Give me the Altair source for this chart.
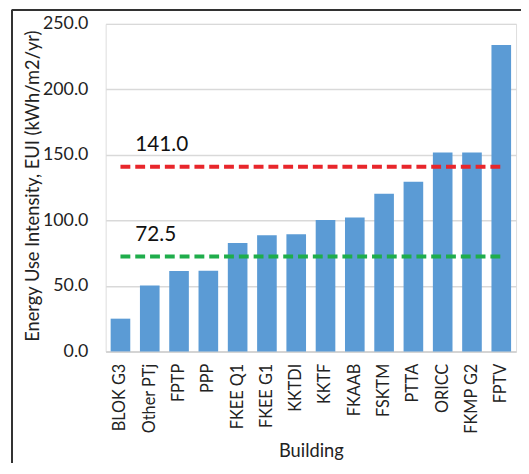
import altair as alt
import pandas as pd

buildings = ["BLOK G3", "Other PTj", "FPTP", "PPP", "FKEE Q1", "FKEE G1", "KKTDI",
             "KKTF", "FKAAB", "FSKTM", "PTTA", "ORICC", "FKMP G2", "FPTV"]
eui = [25.0, 50.3, 61.3, 61.6, 82.7, 88.6, 89.4, 100.3, 102.3, 120.4, 129.6, 151.8, 151.8, 233.8]

ref_values = [141.0, 72.5]
ref_labels = ["141.0", "72.5"]
ref_colors = ["#e8262b", "#1fad4b"]

FONT = "Lato"

df = pd.DataFrame({"Building": buildings, "EUI": eui})
ref = pd.DataFrame({
    "start": [buildings[0]] * 2,
    "end": [buildings[-1]] * 2,
    "value": ref_values,
    "label": ref_labels,
    "color": ref_colors,
})

xscale = alt.Scale(domain=buildings, paddingInner=0.33, paddingOuter=0.17)
yscale = alt.Scale(domain=[0, 250])

bars = alt.Chart(df).mark_bar(color="#5b9bd5").encode(
    x=alt.X("Building:N", sort=buildings, scale=xscale,
            axis=alt.Axis(title="Building", labelAngle=270, labelFontSize=16.5,
                          labelColor="#222", labelFont=FONT, ticks=False,
                          labelPadding=12, domainColor="#d0d0d0", domainWidth=1.5,
                          titleFont=FONT, titleFontSize=18.5, titleFontWeight="normal",
                          titleColor="#222", titleY=101, titleBaseline="middle",
                          labelBaseline="middle")),
    y=alt.Y("EUI:Q", scale=yscale,
            axis=alt.Axis(title="Energy Use Intensity, EUI (kWh/m2/yr)",
                          values=[0, 50, 100, 150, 200, 250], format=".1f",
                          labelFontSize=18, labelFont=FONT, labelColor="#222",
                          ticks=False, domain=False, labelPadding=18,
                          gridColor="#d9d9d9", gridWidth=1.5,
                          titleFont=FONT, titleFontSize=18.5, titleFontWeight="normal",
                          titleColor="#222", titleX=-74, titleY=164,
                          titleBaseline="middle")),
)

rules = alt.Chart(ref).mark_rule(strokeWidth=4, strokeDash=[10, 5]).encode(
    x=alt.X("start:N", sort=buildings, scale=xscale),
    x2="end:N",
    y=alt.Y("value:Q", scale=yscale),
    color=alt.Color("color:N", scale=None),
)

texts = alt.Chart(ref).mark_text(align="left", baseline="alphabetic", dx=15, dy=-16,
                                 fontSize=21, font=FONT, color="#111").encode(
    x=alt.X("start:N", sort=buildings, scale=xscale),
    y=alt.Y("value:Q", scale=yscale),
    text="label:N",
)

frame_left = alt.Chart(df).mark_rule(color="#333", strokeWidth=1.5).encode(
    x=alt.value(-95), y=alt.value(-14), y2=alt.value(460))
frame_top = alt.Chart(df).mark_rule(color="#333", strokeWidth=1.5).encode(
    x=alt.value(-95), x2=alt.value(430), y=alt.value(-14))

chart = alt.layer(bars, rules, texts, frame_left, frame_top).properties(
    width=416, height=332,
    autosize=alt.AutoSizeParams(type="none"),
    padding={"left": 99, "top": 13, "right": 5, "bottom": 110},
).configure_view(stroke=None).configure(background="white")

chart.save("out.html", embed_options={"renderer": "svg", "actions": False})
